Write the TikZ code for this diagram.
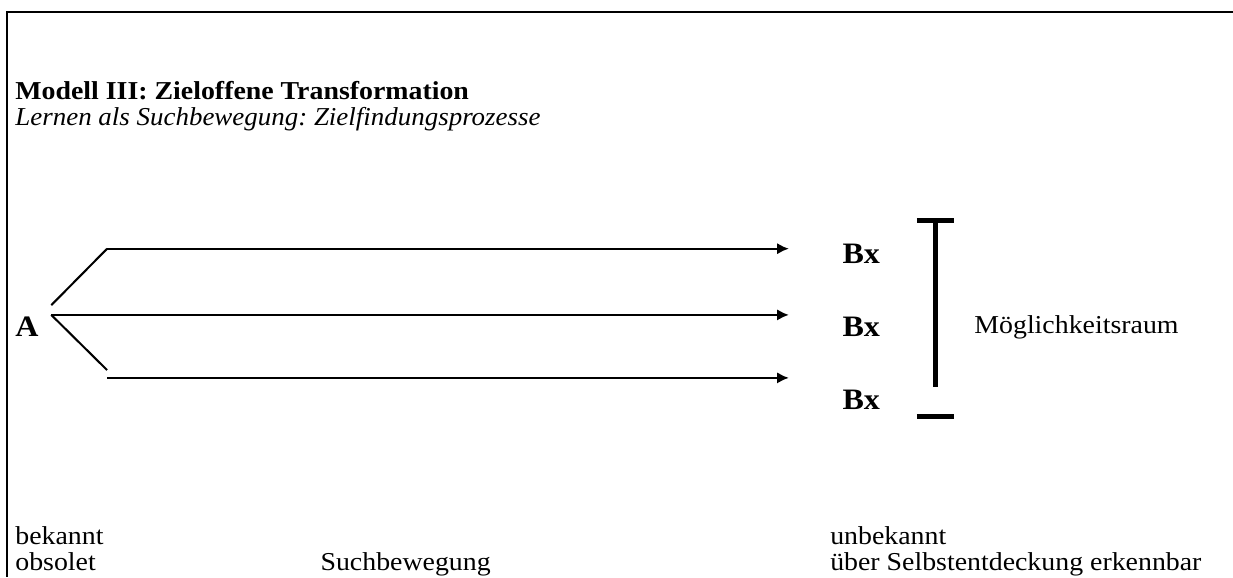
\documentclass[tikz,border=0pt]{standalone}
\usepackage{fontspec}
\setmainfont[FakeStretch=1.08,ItalicFeatures={FakeStretch=1.045}]{Liberation Serif}
\usetikzlibrary{arrows.meta,positioning}
\frenchspacing

\begin{document}
\begin{tikzpicture}[
  txt/.style={inner sep=0pt,font=\fontsize{11.3}{13}\selectfont},
  bx/.style={inner sep=0pt,font=\fontsize{13}{15}\selectfont\bfseries},
  weg/.style={line width=0.9pt},
  pfeil/.style={weg,-{Latex[length=5.2pt,width=5pt]}},
  klammer/.style={line width=2.2pt}
]
\useasboundingbox (0,0) rectangle (18.99,-8.89);

%frame
\draw[line width=0.9pt] (18.99,-0.18) -- (0.11,-0.18) -- (0.11,-8.89);

%title
\node[txt,anchor=base west] (titel) at (0.23,-1.54) {\bfseries Modell III: Zieloffene Transformation};
\node[txt,anchor=base west] (untertitel) at (0.23,-1.93) {\itshape Lernen als Suchbewegung: Zielfindungsprozesse};

%start
\node[bx,anchor=west] (A) at (0.23,-5.03) {A};
\coordinate (gabel oben) at (0.79,-4.70);
\coordinate (gabel) at (0.79,-4.85);
\coordinate (knick oben) at (1.65,-3.83);
\coordinate (knick unten) at (1.65,-5.70);
\coordinate (start unten) at (1.65,-5.82);
\coordinate (ziel oben) at (12.15,-3.83);
\coordinate (ziel mitte) at (12.15,-4.85);
\coordinate (ziel unten) at (12.15,-5.82);

%paths
\draw[weg] (gabel oben) -- (knick oben);
\draw[pfeil] (knick oben) -- (ziel oben);
\draw[pfeil] (gabel) -- (ziel mitte);
\draw[weg] (gabel) -- (knick unten);
\draw[pfeil] (start unten) -- (ziel unten);

%targets
\node[bx,anchor=west] (B1) at (12.97,-3.91) {Bx};
\node[bx,anchor=west] (B2) at (12.97,-5.04) {Bx};
\node[bx,anchor=west] (B3) at (12.97,-6.16) {Bx};

%range
\coordinate (raum oben) at (14.41,-3.40);
\coordinate (raum unten) at (14.41,-5.96);
\draw[klammer] (14.12,-3.40) -- (14.69,-3.40);
\draw[klammer] (raum oben) -- (raum unten);
\draw[klammer] (14.12,-6.41) -- (14.69,-6.41);
\node[txt,anchor=west] (raum) at (15.0,-5.04) {Möglichkeitsraum};

%labels below
\node[txt,anchor=base west] (bekannt) at (0.23,-8.39) {bekannt};
\node[txt,anchor=base west] (obsolet) at (0.23,-8.78) {obsolet};
\node[txt,anchor=base west] (such) at (4.93,-8.78) {Suchbewegung};
\node[txt,anchor=base west] (unbekannt) at (12.78,-8.39) {unbekannt};
\node[txt,anchor=base west] (selbst) at (12.78,-8.78) {über Selbstentdeckung erkennbar};

\end{tikzpicture}
\end{document}
